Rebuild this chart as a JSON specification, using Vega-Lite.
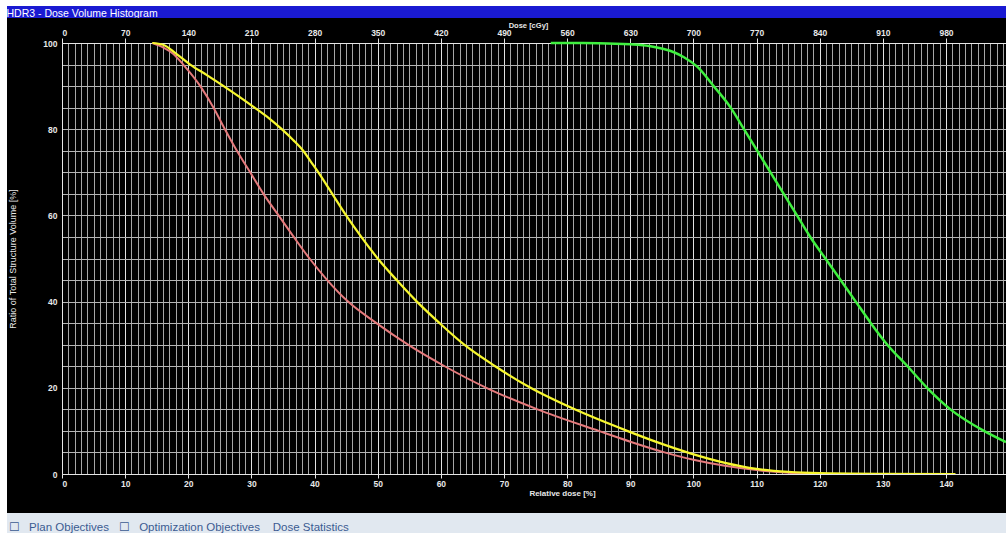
{
  "$schema": "https://vega.github.io/schema/vega-lite/v6.json",
  "background": "black",
  "padding": 0,
  "spacing": 0,
  "bounds": "flush",
  "config": {
    "view": {"stroke": null},
    "concat": {"spacing": 0},
    "axis": {
      "labelFont": "Liberation Sans",
      "titleFont": "Liberation Sans",
      "labelColor": "#e8e8e8",
      "titleColor": "#e8e8e8",
      "domainColor": "#e6e6e6",
      "tickColor": "#e6e6e6",
      "domainWidth": 1,
      "tickWidth": 1
    },
    "axisY": {
      "labelExpr": "datum.value % 20 === 0 ? datum.label : ''",
      "labelOverlap": false,
      "labelFontSize": 8.5,
      "labelFontWeight": "bold",
      "labelPadding": 1,
      "tickSize": 4,
      "tickOpacity": {"condition": {"test": "datum.value % 20 === 0", "value": 1}, "value": 0},
      "grid": true,
      "gridColor": "#b4b4b4",
      "gridWidth": 1,
      "titleFontSize": 9,
      "titleFontWeight": "normal",
      "titleAngle": -90,
      "titleX": -50,
      "titleBaseline": "middle",
      "titleAlign": "center"
    }
  },
  "hconcat": [
    {
      "width": 7,
      "height": 533,
      "data": {"values": [{}]},
      "view": {"fill": "white", "stroke": null},
      "mark": {"type": "rect", "color": "white"},
      "encoding": {}
    },
    {
      "spacing": 0,
      "bounds": "flush",
      "vconcat": [
        {
          "width": 999,
          "height": 6,
          "data": {"values": [{}]},
          "view": {"fill": "white", "stroke": null},
          "mark": {"type": "rect", "color": "white"},
          "encoding": {}
        },
        {
          "width": 999,
          "height": 12,
          "data": {"values": [{"t": 0}]},
          "view": {"fill": "#1a1ad2", "stroke": null},
          "mark": {"type": "rule", "opacity": 0},
          "encoding": {
            "x": {
              "field": "t",
              "type": "quantitative",
              "scale": {"domain": [0, 1]},
              "axis": {
                "orient": "top",
                "domain": false,
                "ticks": false,
                "labels": false,
                "grid": false,
                "title": "HDR3 - Dose Volume Histogram",
                "titleColor": "white",
                "titleFont": "Liberation Sans",
                "titleFontSize": 10.5,
                "titleFontWeight": "normal",
                "titleX": -1,
                "titleY": 10,
                "titleAlign": "left",
                "titleBaseline": "alphabetic"
              }
            }
          }
        },
        {
          "width": 999,
          "height": 456,
          "view": {"fill": "black", "stroke": null},
          "data": {
            "values": [
              {"s": "OAR 2", "rel": 14.3, "vol": 100},
              {"s": "OAR 2", "rel": 16.0, "vol": 99},
              {"s": "OAR 2", "rel": 17.6, "vol": 97.5},
              {"s": "OAR 2", "rel": 19.2, "vol": 95},
              {"s": "OAR 2", "rel": 21.9, "vol": 90},
              {"s": "OAR 2", "rel": 24.0, "vol": 85},
              {"s": "OAR 2", "rel": 25.8, "vol": 80},
              {"s": "OAR 2", "rel": 27.7, "vol": 75},
              {"s": "OAR 2", "rel": 29.8, "vol": 70},
              {"s": "OAR 2", "rel": 31.9, "vol": 65},
              {"s": "OAR 2", "rel": 34.3, "vol": 60},
              {"s": "OAR 2", "rel": 36.7, "vol": 55},
              {"s": "OAR 2", "rel": 39.2, "vol": 50},
              {"s": "OAR 2", "rel": 42.0, "vol": 45},
              {"s": "OAR 2", "rel": 45.3, "vol": 40},
              {"s": "OAR 2", "rel": 49.8, "vol": 35},
              {"s": "OAR 2", "rel": 54.8, "vol": 30},
              {"s": "OAR 2", "rel": 60.6, "vol": 25},
              {"s": "OAR 2", "rel": 67.2, "vol": 20},
              {"s": "OAR 2", "rel": 75.3, "vol": 15},
              {"s": "OAR 2", "rel": 85.0, "vol": 10},
              {"s": "OAR 2", "rel": 90.0, "vol": 7.5},
              {"s": "OAR 2", "rel": 95.0, "vol": 5.2},
              {"s": "OAR 2", "rel": 100.0, "vol": 3.3},
              {"s": "OAR 2", "rel": 105.0, "vol": 1.9},
              {"s": "OAR 2", "rel": 110.0, "vol": 0.9},
              {"s": "OAR 2", "rel": 115.0, "vol": 0.3},
              {"s": "OAR 2", "rel": 120.0, "vol": 0},
              {"s": "OAR 1", "rel": 14.3, "vol": 100},
              {"s": "OAR 1", "rel": 16.0, "vol": 99.6},
              {"s": "OAR 1", "rel": 18.0, "vol": 97.6},
              {"s": "OAR 1", "rel": 20.3, "vol": 95},
              {"s": "OAR 1", "rel": 23.0, "vol": 92.5},
              {"s": "OAR 1", "rel": 25.6, "vol": 90},
              {"s": "OAR 1", "rel": 28.1, "vol": 87.5},
              {"s": "OAR 1", "rel": 30.5, "vol": 85},
              {"s": "OAR 1", "rel": 32.8, "vol": 82.5},
              {"s": "OAR 1", "rel": 34.8, "vol": 80},
              {"s": "OAR 1", "rel": 36.6, "vol": 77.5},
              {"s": "OAR 1", "rel": 38.2, "vol": 75},
              {"s": "OAR 1", "rel": 39.4, "vol": 72.5},
              {"s": "OAR 1", "rel": 40.6, "vol": 70},
              {"s": "OAR 1", "rel": 42.8, "vol": 65},
              {"s": "OAR 1", "rel": 45.0, "vol": 60},
              {"s": "OAR 1", "rel": 47.4, "vol": 55},
              {"s": "OAR 1", "rel": 50.0, "vol": 50},
              {"s": "OAR 1", "rel": 53.0, "vol": 45},
              {"s": "OAR 1", "rel": 56.2, "vol": 40},
              {"s": "OAR 1", "rel": 59.8, "vol": 35},
              {"s": "OAR 1", "rel": 63.7, "vol": 30},
              {"s": "OAR 1", "rel": 68.6, "vol": 25},
              {"s": "OAR 1", "rel": 74.2, "vol": 20},
              {"s": "OAR 1", "rel": 81.2, "vol": 15},
              {"s": "OAR 1", "rel": 89.5, "vol": 10},
              {"s": "OAR 1", "rel": 94.0, "vol": 7.5},
              {"s": "OAR 1", "rel": 99.5, "vol": 4.8},
              {"s": "OAR 1", "rel": 105.0, "vol": 2.6},
              {"s": "OAR 1", "rel": 110.0, "vol": 1.2},
              {"s": "OAR 1", "rel": 115.0, "vol": 0.5},
              {"s": "OAR 1", "rel": 120.0, "vol": 0.2},
              {"s": "OAR 1", "rel": 130.0, "vol": 0.05},
              {"s": "OAR 1", "rel": 141.5, "vol": 0},
              {"s": "Target", "rel": 77.4, "vol": 100},
              {"s": "Target", "rel": 85.0, "vol": 99.95},
              {"s": "Target", "rel": 90.0, "vol": 99.7},
              {"s": "Target", "rel": 93.0, "vol": 99.3},
              {"s": "Target", "rel": 95.3, "vol": 98.6},
              {"s": "Target", "rel": 97.0, "vol": 97.8},
              {"s": "Target", "rel": 98.5, "vol": 96.7},
              {"s": "Target", "rel": 100.6, "vol": 94.5},
              {"s": "Target", "rel": 103.2, "vol": 90},
              {"s": "Target", "rel": 105.9, "vol": 85},
              {"s": "Target", "rel": 108.0, "vol": 80},
              {"s": "Target", "rel": 110.1, "vol": 75},
              {"s": "Target", "rel": 112.2, "vol": 70},
              {"s": "Target", "rel": 114.3, "vol": 65},
              {"s": "Target", "rel": 116.4, "vol": 60},
              {"s": "Target", "rel": 118.5, "vol": 55},
              {"s": "Target", "rel": 120.9, "vol": 50},
              {"s": "Target", "rel": 123.3, "vol": 45},
              {"s": "Target", "rel": 125.7, "vol": 40},
              {"s": "Target", "rel": 128.1, "vol": 35},
              {"s": "Target", "rel": 130.7, "vol": 30},
              {"s": "Target", "rel": 133.9, "vol": 25},
              {"s": "Target", "rel": 137.0, "vol": 20},
              {"s": "Target", "rel": 140.7, "vol": 15},
              {"s": "Target", "rel": 146.0, "vol": 10},
              {"s": "Target", "rel": 149.5, "vol": 7.4}
            ]
          },
          "resolve": {"axis": {"x": "independent"}},
          "layer": [
            {
              "mark": {"type": "point", "opacity": 0},
              "encoding": {
                "x": {
                  "field": "rel",
                  "type": "quantitative",
                  "scale": {"domain": [0, 149.5], "range": [55, 999], "nice": false, "zero": false},
                  "axis": {
                    "orient": "top",
                    "offset": -25,
                    "tickCount": 150,
                    "labelExpr": "datum.value % 10 === 0 ? format(datum.value * 7, 'd') : ''",
                    "labelOverlap": false,
                    "labelFontSize": 8.5,
                    "labelFontWeight": "bold",
                    "labelPadding": 1,
                    "tickSize": 5,
                    "tickOpacity": {"condition": {"test": "datum.value % 10 === 0", "value": 1}, "value": 0},
                    "grid": true,
                    "gridColor": {"condition": {"test": "datum.value % 10 === 0", "value": "#e2e2e2"}, "value": "#a6a6a6"},
                    "gridWidth": 1,
                    "title": "Dose [cGy]",
                    "titleFontSize": 7.5,
                    "titleFontWeight": "bold",
                    "titleX": 521,
                    "titleY": -16,
                    "titleAlign": "center",
                    "titleBaseline": "alphabetic"
                  }
                },
                "y": {
                  "field": "vol",
                  "type": "quantitative",
                  "scale": {"domain": [0, 100], "range": [456, 25], "nice": false, "zero": false},
                  "axis": {
                    "orient": "left",
                    "offset": -55,
                    "title": "Ratio of Total Structure Volume [%]",
                    "values": [0, 5, 10, 15, 20, 25, 30, 35, 40, 45, 50, 55, 60, 65, 70, 75, 80, 85, 90, 95, 100]
                  }
                }
              }
            },
            {
              "mark": {"type": "line", "interpolate": "monotone", "clip": true},
              "encoding": {
                "x": {
                  "field": "rel",
                  "type": "quantitative",
                  "scale": {"domain": [0, 149.5], "range": [55, 999], "nice": false, "zero": false},
                  "axis": {
                    "orient": "bottom",
                    "values": [0, 10, 20, 30, 40, 50, 60, 70, 80, 90, 100, 110, 120, 130, 140],
                    "labelOverlap": false,
                    "labelFontSize": 8.5,
                    "labelFontWeight": "bold",
                    "labelPadding": 1,
                    "tickSize": 4,
                    "grid": false,
                    "title": "Relative dose [%]",
                    "titleFontSize": 8,
                    "titleFontWeight": "bold",
                    "titleX": 555,
                    "titleY": 21,
                    "titleAlign": "center",
                    "titleBaseline": "alphabetic"
                  }
                },
                "y": {
                  "field": "vol",
                  "type": "quantitative",
                  "scale": {"domain": [0, 100], "range": [456, 25], "nice": false, "zero": false},
                  "axis": {
                    "orient": "left",
                    "offset": -55,
                    "title": "Ratio of Total Structure Volume [%]",
                    "values": [0, 5, 10, 15, 20, 25, 30, 35, 40, 45, 50, 55, 60, 65, 70, 75, 80, 85, 90, 95, 100]
                  }
                },
                "color": {
                  "field": "s",
                  "type": "nominal",
                  "scale": {"domain": ["OAR 2", "OAR 1", "Target"], "range": ["#e67a7c", "#f7f72e", "#3ff03f"]},
                  "legend": null
                },
                "strokeWidth": {
                  "field": "s",
                  "type": "nominal",
                  "scale": {"domain": ["OAR 2", "OAR 1", "Target"], "range": [2, 2.5, 2.5]},
                  "legend": null
                }
              }
            }
          ]
        },
        {
          "width": 999,
          "height": 39,
          "data": {"values": [{}]},
          "mark": {"type": "rect", "opacity": 0},
          "encoding": {}
        },
        {
          "width": 999,
          "height": 20,
          "data": {"values": [{"t": 0}]},
          "view": {"fill": "#e1e8f0", "stroke": null},
          "mark": {"type": "rule", "opacity": 0},
          "encoding": {
            "x": {
              "field": "t",
              "type": "quantitative",
              "scale": {"domain": [0, 1]},
              "axis": {
                "orient": "top",
                "domain": false,
                "ticks": false,
                "labels": false,
                "grid": false,
                "title": "☐\u00a0\u00a0\u00a0Plan Objectives\u00a0\u00a0\u00a0☐\u00a0\u00a0\u00a0Optimization Objectives\u00a0\u00a0\u00a0\u00a0Dose Statistics",
                "titleColor": "#3b5b92",
                "titleFont": "Liberation Sans",
                "titleFontSize": 11.5,
                "titleFontWeight": "normal",
                "titleX": 1,
                "titleY": 17,
                "titleAlign": "left",
                "titleBaseline": "alphabetic"
              }
            }
          }
        }
      ]
    }
  ]
}
